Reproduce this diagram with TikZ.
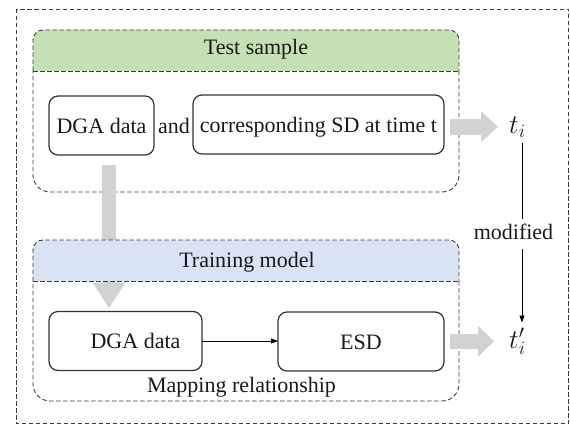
\RequirePackage{fix-cm}
\documentclass[tikz,border=0pt]{standalone}
\usepackage{fontspec}
\setmainfont{Liberation Serif}
\usetikzlibrary{arrows.meta}
\definecolor{hdgreen}{RGB}{197,224,180}
\definecolor{hdblue}{RGB}{218,227,243}
\definecolor{dashc}{RGB}{60,60,60}
\definecolor{boxc}{RGB}{50,50,50}
\definecolor{garr}{RGB}{210,210,210}
\definecolor{txt}{RGB}{25,25,25}
\begin{document}
\begin{tikzpicture}[x=1pt,y=-1pt,
 every node/.style={font=\fontsize{22}{26}\selectfont, text=txt},
 mathlbl/.style={anchor=base west, inner sep=0pt, font=\fontsize{27}{32}\selectfont},
 grpline/.style={draw=dashc, line width=0.9pt, dash pattern=on 4.5pt off 2.5pt},
 databox/.style={draw=boxc, line width=1.2pt, rounded corners=9pt, minimum height=59pt, text height=15pt, text depth=0pt, inner sep=0pt, outer sep=0pt},
 garrow/.style={draw=garr, line width=16pt, -{Triangle[width=30pt,length=17pt]}},
 thinarrow/.style={draw=black, line width=0.7pt, -{Triangle[width=5pt,length=7pt]}},
]
\useasboundingbox (0,0) rectangle (570,425);
% outer frame
\draw[grpline] (16,9) rectangle (568.5,423.5);

% ---- Test sample group
\fill[hdgreen, rounded corners=10pt] (33,71) -- (33,30) -- (459,30) -- (459,71);
\draw[grpline] (33,71) -- (459,71);
\draw[grpline, rounded corners=10pt] (33,71) -- (33,30) -- (459,30) -- (459,71);
\draw[grpline, rounded corners=17pt] (459,71) -- (459,192) -- (33,192) -- (33,71);
\node[anchor=base] (testtitle) at (256,55) {Test sample};

\node[databox, minimum width=105pt] (dga1) at (101.5,125.5) {DGA data};
\node[anchor=base] (andw) at (174,133) {and};
\node[databox, minimum width=251pt] (sd) at (318.5,124.5) {corresponding SD at time t};
\node[mathlbl] (ti) at (509,133) {$t_i$};
\draw[garrow, shorten <=6pt, shorten >=11pt] (sd.east |- ti.west) -- (ti.west);

% ---- Training model group
\node[databox, minimum width=153pt] (dga2) at (125.5,341) {\hspace*{20pt}DGA data};
\node[databox, minimum width=166pt] (esd) at (361,341.5) {ESD};
\draw[thinarrow] (dga2.east) -- (esd.west |- dga2.east);

\coordinate (gx) at (109,0);
\draw[garrow, line width=14pt, -{Triangle[width=31pt,length=26pt]}, shorten <=10pt, shorten >=3pt] (dga1.south -| gx) -- (dga2.north -| gx);

\fill[hdblue, rounded corners=10pt] (33,281) -- (33,240) -- (459,240) -- (459,281);
\draw[grpline] (33,281) -- (459,281);
\draw[grpline, rounded corners=10pt] (33,281) -- (33,240) -- (459,240) -- (459,281);
\draw[grpline, rounded corners=17pt] (459,281) -- (459,401) -- (33,401) -- (33,281);
\node[anchor=base] (traintitle) at (247,267) {Training model};
\node[anchor=base] (mapping) at (241.5,392) {Mapping relationship};

\node[mathlbl] (tip) at (509,348) {$t_i'$};
\draw[garrow, line width=15pt, -{Triangle[width=30pt,length=16pt]}, shorten <=6pt, shorten >=15pt] (esd.east |- tip.west) -- (tip.west);

% ---- modified connector
\coordinate (vx) at (522,0);
\draw[thinarrow, shorten <=6pt, shorten >=5pt] (ti.south -| vx) -- (tip.north -| vx);
\node[anchor=base, fill=white, text height=15pt, text depth=5pt, inner xsep=2pt, inner ysep=5pt] (mod) at (513.5,239) {modified};
\end{tikzpicture}
\end{document}
